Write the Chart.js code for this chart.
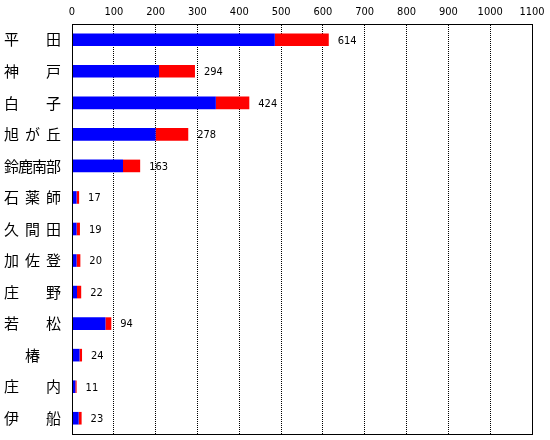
<!DOCTYPE html>
<html>
<head>
<meta charset="utf-8">
<script src="https://cdn.jsdelivr.net/npm/chart.js@4.4.0/dist/chart.umd.min.js"></script>
<style>
  body { margin: 0; background: #fff; }
  canvas { display: block; }
</style>
</head>
<body>
<canvas id="chart" width="550" height="440"></canvas>
<script>
// 地区名と件数（青＋赤の積み上げ）
const areas = ['平田', '神戸', '白子', '旭が丘', '鈴鹿南部', '石薬師', '久間田', '加佐登', '庄野', '若松', '椿', '庄内', '伊船'];
const blueVals = [485, 208, 344, 200, 122, 11, 11, 11, 12, 80, 18, 8, 16];
const redVals = [129, 86, 80, 78, 41, 6, 8, 9, 10, 14, 6, 3, 7];
const xMin = 0, xMax = 1100, xStep = 100;

const numFont = { family: "'DejaVu Sans Condensed', 'Liberation Sans Narrow', 'DejaVu Sans Mono', sans-serif", size: 11 };
const jpFont = "15px 'Noto Sans CJK JP'";

// 枠線・地区名・合計値を描く
const extras = {
    id: 'extras',
    afterDraw(chart) {
        const ctx = chart.ctx;
        const a = chart.chartArea;
        const ys = chart.scales.y;
        const xs = chart.scales.x;
        ctx.save();
        ctx.strokeStyle = '#000';
        ctx.lineWidth = 1;
        ctx.strokeRect(Math.round(a.left) + 0.5, Math.round(a.top) + 0.5,
            Math.round(a.right - a.left), Math.round(a.bottom - a.top));

        // 地区名（4文字幅に均等割り付け）
        ctx.font = jpFont;
        ctx.fillStyle = '#000';
        ctx.textBaseline = 'middle';
        ctx.textAlign = 'left';
        const left = 4, right = 61, w = 15;
        areas.forEach((name, i) => {
            const y = ys.getPixelForValue(i);
            const chars = Array.from(name);
            if (chars.length === 1) {
                ctx.fillText(chars[0], (left + right - w) / 2, y);
            } else {
                const step = (right - left - w) / (chars.length - 1);
                chars.forEach((c, j) => ctx.fillText(c, left + j * step, y));
            }
        });

        // 合計値
        ctx.font = numFont.size + 'px ' + numFont.family;
        areas.forEach((name, i) => {
            const total = blueVals[i] + redVals[i];
            const x = xs.getPixelForValue(total);
            ctx.fillText(String(total), x + 9, ys.getPixelForValue(i) + 1);
        });
        ctx.restore();
    }
};

new Chart(document.getElementById('chart'), {
    type: 'bar',
    data: {
        labels: areas,
        datasets: [
            { data: blueVals, backgroundColor: '#0000ff', barPercentage: 0.4, categoryPercentage: 1 },
            { data: redVals, backgroundColor: '#ff0000', barPercentage: 0.4, categoryPercentage: 1 }
        ]
    },
    options: {
        indexAxis: 'y',
        responsive: false,
        animation: false,
        layout: { padding: { left: 0, top: 0, right: 18, bottom: 6 } },
        plugins: { legend: { display: false }, tooltip: { enabled: false } },
        scales: {
            x: {
                type: 'linear',
                position: 'top',
                stacked: true,
                min: xMin,
                max: xMax,
                afterFit: s => { s.height = 24; },
                ticks: { stepSize: xStep, color: '#000', font: numFont, padding: 5, callback: v => String(v) },
                grid: { color: '#000', lineWidth: 1, drawTicks: false },
                border: { display: true, color: '#000', dash: [1, 1] }
            },
            y: {
                stacked: true,
                afterFit: s => { s.width = 72; },
                ticks: { display: false },
                grid: { display: false },
                border: { display: true, color: '#000' }
            }
        }
    },
    plugins: [extras]
});
</script>
</body>
</html>
